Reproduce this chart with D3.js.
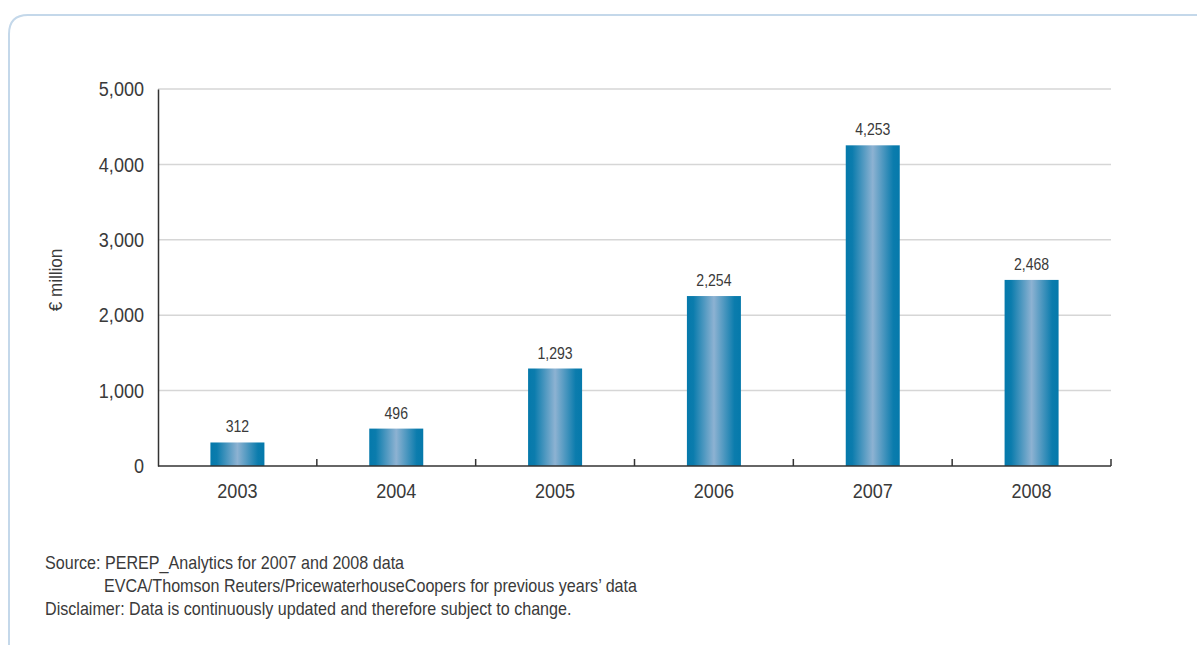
<!DOCTYPE html>
<html>
<head>
<meta charset="utf-8">
<script src="https://cdn.jsdelivr.net/npm/d3@7"></script>
<style>
  html, body { margin: 0; padding: 0; background: #fff; }
  svg { display: block; }
  text { font-family: "Liberation Sans", Arial, sans-serif; fill: #3a3a3a; }
</style>
</head>
<body>
<svg id="chart" width="1197" height="645"></svg>
<script>
const years = ["2003", "2004", "2005", "2006", "2007", "2008"];
const values = [312, 496, 1293, 2254, 4253, 2468];
const yTicks = [0, 1000, 2000, 3000, 4000, 5000];
const yLabel = "€ million";
const notes = [
  "Source: PEREP_Analytics for 2007 and 2008 data",
  "EVCA/Thomson Reuters/PricewaterhouseCoopers for previous years\u2019 data",
  "Disclaimer: Data is continuously updated and therefore subject to change."
];

const svg = d3.select("#chart");
const fmt = d3.format(",");
const SX = 0.86; // condensed look

// frame
svg.append("path")
  .attr("d", "M9,645 L9,34 Q9,15 28,15 L1197,15")
  .attr("fill", "none").attr("stroke", "#c4d8ea").attr("stroke-width", 2);

const m = { left: 158, right: 1111, top: 89, bottom: 466 };
const x = d3.scaleBand().domain(years).range([m.left, m.right]).paddingInner(0.66).paddingOuter(0.33);
const y = d3.scaleLinear().domain([0, 5000]).range([m.bottom, m.top]);

const defs = svg.append("defs");
const grad = defs.append("linearGradient").attr("id", "barGrad").attr("x1", "0").attr("x2", "1").attr("y1", "0").attr("y2", "0");
grad.append("stop").attr("offset", "0%").attr("stop-color", "#0579ab");
grad.append("stop").attr("offset", "12%").attr("stop-color", "#0b7cad");
grad.append("stop").attr("offset", "50%").attr("stop-color", "#8db2d2");
grad.append("stop").attr("offset", "88%").attr("stop-color", "#0b7cad");
grad.append("stop").attr("offset", "100%").attr("stop-color", "#0579ab");

// gridlines
svg.append("g").selectAll("line").data(yTicks.filter(d => d > 0)).join("line")
  .attr("x1", m.left).attr("x2", m.right)
  .attr("y1", d => y(d)).attr("y2", d => y(d))
  .attr("stroke", "#d6d6d6").attr("stroke-width", 1.5);

// bars
svg.append("g").selectAll("rect").data(values).join("rect")
  .attr("x", (d, i) => x(years[i]))
  .attr("width", x.bandwidth())
  .attr("y", d => y(d))
  .attr("height", d => y(0) - y(d))
  .attr("fill", "url(#barGrad)");

// value labels
svg.append("g").selectAll("text").data(values).join("text")
  .attr("transform", (d, i) => `translate(${x(years[i]) + x.bandwidth() / 2},${y(d) - 10}) scale(0.88,1)`)
  .attr("text-anchor", "middle")
  .attr("font-size", 16)
  .text(d => fmt(d));

// y axis
const yAxis = svg.append("g").attr("transform", `translate(${m.left},0)`)
  .call(d3.axisLeft(y).tickValues(yTicks).tickFormat(fmt).tickSize(0).tickPadding(14));
yAxis.select(".domain").attr("stroke", "#333").attr("stroke-width", 1.5);
yAxis.selectAll("text").attr("font-size", 21).attr("fill", "#3a3a3a")
  .attr("x", -14 / SX).attr("transform", `scale(${SX},1)`);

// x axis
const xAxis = svg.append("g").attr("transform", `translate(0,${m.bottom})`)
  .call(d3.axisBottom(x).tickSize(0).tickPadding(17));
xAxis.select(".domain").attr("stroke", "#333").attr("stroke-width", 1.5).attr("d", `M${m.left},0H${m.right}`);
xAxis.selectAll("text").attr("font-size", 21).attr("fill", "#3a3a3a")
  .attr("transform", `scale(${SX},1)`);

// category boundary ticks
svg.append("g").selectAll("line").data(years).join("line")
  .attr("x1", (d, i) => m.left + (i + 1) * (m.right - m.left) / years.length)
  .attr("x2", (d, i) => m.left + (i + 1) * (m.right - m.left) / years.length)
  .attr("y1", m.bottom).attr("y2", m.bottom - 7)
  .attr("stroke", "#333").attr("stroke-width", 1.5);

// y label
svg.append("text")
  .attr("transform", "translate(62,280) rotate(-90) scale(0.95,1)")
  .attr("text-anchor", "middle")
  .attr("font-size", 18)
  .text(yLabel);

// notes
const NS = 0.895;
svg.append("text").attr("transform", `translate(45,569) scale(${NS},1)`).attr("font-size", 18).text(notes[0]);
svg.append("text").attr("transform", `translate(104,592) scale(${NS},1)`).attr("font-size", 18).text(notes[1]);
svg.append("text").attr("transform", `translate(45,615) scale(${NS},1)`).attr("font-size", 18).text(notes[2]);
</script>
</body>
</html>
